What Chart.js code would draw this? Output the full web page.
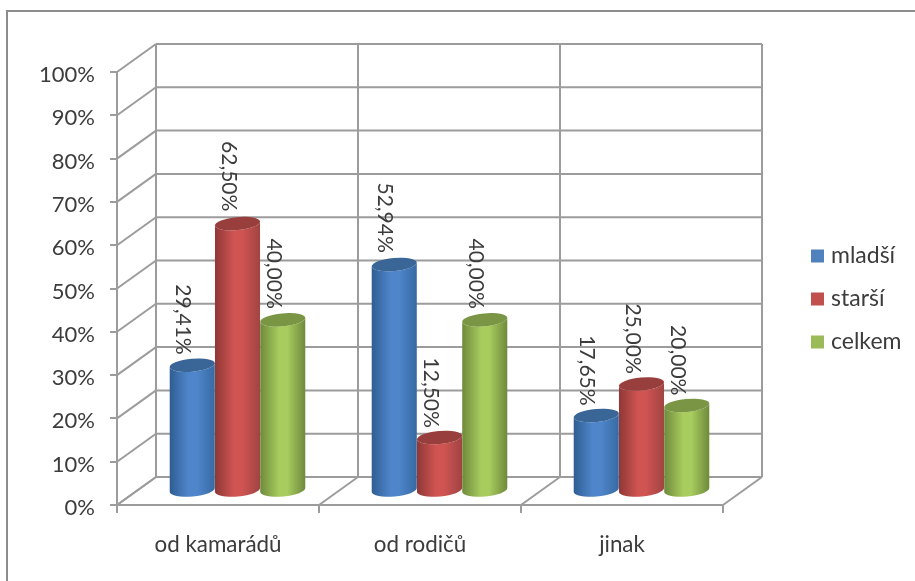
<!DOCTYPE html>
<html><head><meta charset="utf-8">
<style>html,body{margin:0;padding:0;background:#fff}canvas{display:block;filter:blur(0.45px)}#w{width:915px;height:581px;position:relative}</style>
<script src="https://cdn.jsdelivr.net/npm/chart.js@4"></script>
</head><body><div id="w"><canvas id="c" width="915" height="581"></canvas></div>
<script>
const categories = ['od kamarádů', 'od rodičů', 'jinak'];
const mladsi = [29.41, 52.94, 17.65];
const starsi = [62.50, 12.50, 25.00];
const celkem = [40.00, 40.00, 20.00];
const seriesNames = ['mladší', 'starší', 'celkem'];
const seriesColors = ['#4f81bd', '#c0504d', '#9bbb59'];
const edgeL = ['#2f5d92', '#8e3836', '#6f8a3c'];
const mid   = ['#4f86cb', '#cf5452', '#a8cc5e'];
const edgeR = ['#376aa3', '#a04442', '#6e8a3b'];
const topCol= ['#3a6697', '#983e3c', '#7a9645'];

const DX = 39, DY = 28;          // depth of the 3D box
const GRID = '#9c9c9c', TEXT = '#3c3c3c';
const FONT = 'Lato, Carlito, sans-serif';

// cylinders: replace how the bar element paints itself
const ROT = -0.09, RY = 6.5;
Chart.BarElement.prototype.draw = function (ctx) {
  const p = this.getProps(['x', 'y', 'base', 'width']);
  const i = Math.max(0, seriesColors.indexOf(this.options.backgroundColor));
  const cx = p.x + DX / 2, rx = p.width / 2;
  const t = p.y - DY / 2 + (p.base - p.y) * 0.012, b = p.base - DY / 2;
  const g = ctx.createLinearGradient(cx - rx, 0, cx + rx, 0);
  g.addColorStop(0, edgeL[i]); g.addColorStop(0.42, mid[i]);
  g.addColorStop(0.6, mid[i]); g.addColorStop(1, edgeR[i]);
  ctx.save();
  ctx.beginPath();
  ctx.ellipse(cx, b, rx, RY, ROT, 0, Math.PI);
  ctx.ellipse(cx, t, rx, RY, ROT, Math.PI, 0, true);
  ctx.closePath();
  ctx.fillStyle = g; ctx.fill();
  ctx.beginPath();
  ctx.ellipse(cx, t, rx, RY, ROT, 0, 2 * Math.PI);
  ctx.fillStyle = topCol[i]; ctx.fill();
  ctx.restore();
};

const box3d = {
  id: 'box3d',
  afterLayout(chart) {
    const lg = chart.legend;
    lg.left = 815.5 - 20; lg.right = lg.left + lg.width;
    const dy = 300 - (lg.top + lg.bottom) / 2 - 1;
    lg.top += dy; lg.bottom += dy;
  },
  beforeDraw(chart) {
    const ctx = chart.ctx, y = chart.scales.y, x = chart.scales.x;
    const a = chart.chartArea;
    // nudge tick labels slightly under their tick, as in the picture
    y._labelItems = null;
    y.getLabelItems().forEach(it => { it.options.translation = [it.options.translation[0], it.options.translation[1] + 3]; });
    ctx.save();
    ctx.strokeStyle = '#8c8c8c'; ctx.lineWidth = 2;
    ctx.beginPath(); ctx.moveTo(7, 581); ctx.lineTo(7, 11); ctx.lineTo(915, 11); ctx.stroke();
    ctx.strokeStyle = GRID; ctx.lineWidth = 2; ctx.lineCap = 'butt';
    const line = (x1, y1, x2, y2) => { ctx.beginPath(); ctx.moveTo(x1, y1); ctx.lineTo(x2, y2); ctx.stroke(); };
    y.ticks.forEach(t => {
      const py = y.getPixelForValue(t.value);
      line(a.left, py, a.left + DX, py - DY);
      line(a.left + DX, py - DY, a.right + DX, py - DY);
    });
    const n = categories.length;
    for (let i = 0; i <= n; i++) {
      const px = x.getPixelForTick(0) + (i - 0.5) * (x.getPixelForTick(1) - x.getPixelForTick(0));
      line(px, a.bottom, px + DX, a.bottom - DY);
      line(px + DX, a.bottom - DY, px + DX, a.top - DY);
    }
    line(a.left, a.top, a.left, a.bottom + 1);
    line(a.left, a.bottom, a.right, a.bottom);
    ctx.restore();
  },
  afterDatasetsDraw(chart) {
    const ctx = chart.ctx;
    ctx.save();
    ctx.font = '21px ' + FONT;
    ctx.fillStyle = TEXT;
    ctx.textBaseline = 'middle';
    ctx.textAlign = 'right';
    chart.data.datasets.forEach((ds, di) => {
      chart.getDatasetMeta(di).data.forEach((el, k) => {
        const s = ds.data[k].toFixed(2).replace('.', ',') + '%';
        ctx.save();
        ctx.translate(el.x + DX / 2 - 9, el.y - DY / 2 - 9);
        ctx.rotate(Math.PI / 2);
        ctx.fillText(s, 0, 0);
        ctx.restore();
      });
    });
    ctx.restore();
  }
};

const ds = (i, data) => ({
  label: seriesNames[i], data,
  backgroundColor: seriesColors[i], borderColor: seriesColors[i],
  barPercentage: 1, categoryPercentage: 0.672
});

const chart = new Chart(document.getElementById('c'), {
  type: 'bar',
  data: { labels: categories, datasets: [ds(0, mladsi), ds(1, starsi), ds(2, celkem)] },
  options: {
    responsive: false, animation: false, devicePixelRatio: 1,
    layout: { padding: { top: 72, right: 20, bottom: 0, left: 0 } },
    plugins: {
      tooltip: { enabled: false },
      legend: {
        position: 'right', align: 'center',
        labels: {
          boxWidth: 4, boxHeight: 4, padding: 20, color: TEXT,
          font: { family: FONT, size: 23 },
          generateLabels: c => c.data.datasets.map((d, i) => ({
            text: d.label, fillStyle: d.backgroundColor, strokeStyle: d.backgroundColor,
            lineWidth: 9, lineJoin: 'miter', fontColor: TEXT, datasetIndex: i, hidden: false
          }))
        }
      }
    },
    scales: {
      x: {
        afterFit: s => { s.height = 76; },
        grid: { drawOnChartArea: false, color: GRID, lineWidth: 2, tickLength: 8, tickColor: GRID },
        border: { display: false },
        ticks: { color: TEXT, font: { family: FONT, size: 22.4 }, padding: 18, maxRotation: 0 }
      },
      y: {
        min: 0, max: 100,
        afterFit: s => { s.width = 117; },
        grid: { drawOnChartArea: false, color: GRID, lineWidth: 2, tickLength: 7, tickColor: GRID },
        border: { display: false },
        ticks: { stepSize: 10, color: TEXT, font: { family: FONT, size: 22 }, padding: 15, callback: v => v + '%' }
      }
    }
  },
  plugins: [box3d]
});
chart.options.layout.padding.right = 915 - 723 - chart.legend.width;
chart.update('none');
</script></body></html>
